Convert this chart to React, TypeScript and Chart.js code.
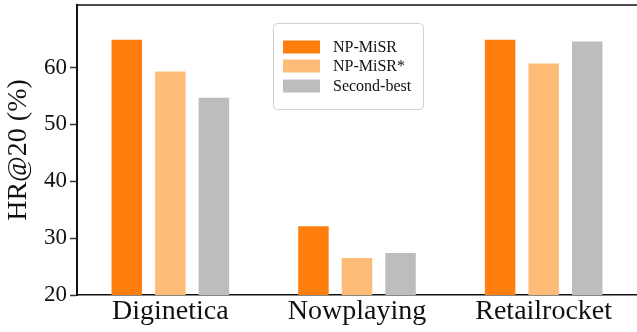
import React, { useEffect, useRef } from "react";
import { Chart, registerables } from "chart.js";

Chart.register(...registerables);

const categories = ["Diginetica", "Nowplaying", "Retailrocket"];
const seriesNames = ["NP-MiSR", "NP-MiSR*", "Second-best"];
const npMiSR = [64.9, 32.1, 64.9];
const npMiSRStar = [59.3, 26.5, 60.7];
const secondBest = [54.7, 27.4, 64.6];
const seriesColors = ["#ff7f0e", "#ffbb78", "#bdbdbd"];
const yTicks = [20, 30, 40, 50, 60];
const yMin = 20;
const yMax = 71;
const yTitle = "HR@20 (%)";

const FONT = "'Liberation Serif', 'Times New Roman', serif";

const topSpine = {
  id: "topSpine",
  afterDraw(chart: any) {
    const { ctx, chartArea } = chart;
    ctx.save();
    ctx.strokeStyle = "#111";
    ctx.lineWidth = 1.5;
    ctx.beginPath();
    ctx.moveTo(chartArea.left, chartArea.top);
    ctx.lineTo(chartArea.right, chartArea.top);
    ctx.stroke();
    ctx.restore();
  },
};

const boxLegend = {
  id: "boxLegend",
  afterDraw(chart: any) {
    const ctx = chart.ctx;
    const x0 = 273.5;
    const y0 = 23.5;
    const w = 150;
    const h = 86;
    ctx.save();
    ctx.beginPath();
    ctx.roundRect(x0, y0, w, h, 4);
    ctx.fillStyle = "rgba(255,255,255,0.9)";
    ctx.fill();
    ctx.strokeStyle = "#d0d0d0";
    ctx.lineWidth = 1;
    ctx.stroke();
    const rowY = [47, 66, 86];
    chart.data.datasets.forEach((ds: any, i: number) => {
      ctx.fillStyle = ds.backgroundColor;
      ctx.fillRect(283, rowY[i] - 6.5, 37, 13);
      ctx.fillStyle = "#111";
      ctx.font = `16px ${FONT}`;
      ctx.textBaseline = "middle";
      ctx.textAlign = "left";
      ctx.fillText(ds.label, 333, rowY[i] + 1);
    });
    ctx.restore();
  },
};

export default function App() {
  const ref = useRef<HTMLCanvasElement>(null);
  useEffect(() => {
    const values = [npMiSR, npMiSRStar, secondBest];
    const chart = new Chart(ref.current!, {
      type: "bar",
      data: {
        labels: categories,
        datasets: seriesNames.map((name, i) => ({
          label: name,
          data: values[i],
          backgroundColor: seriesColors[i],
          borderWidth: 0,
          categoryPercentage: 0.7,
          barPercentage: 0.7,
        })),
      },
      options: {
        animation: false,
        responsive: false,
        layout: { padding: { top: 5, left: 0, right: 0, bottom: 0 } },
        plugins: { legend: { display: false }, tooltip: { enabled: false } },
        scales: {
          x: {
            grid: { display: true, drawOnChartArea: false, drawTicks: false },
            border: { display: true, color: "#111", width: 1.5 },
            ticks: { font: { family: FONT, size: 28 }, color: "#111", padding: 0 },
            afterFit: (s: any) => {
              s.height = 37;
              s.paddingLeft = 0;
              s.paddingRight = 0;
            },
          },
          y: {
            min: yMin,
            max: yMax,
            grid: { drawOnChartArea: false, drawTicks: true, tickLength: 7, tickColor: "#333", tickWidth: 1.5 },
            border: { display: true, color: "#111", width: 2 },
            ticks: { font: { family: FONT, size: 23 }, color: "#111", padding: 3 },
            afterBuildTicks: (s: any) => {
              s.ticks = yTicks.map((v) => ({ value: v }));
            },
            afterFit: (s: any) => {
              s.width = 77;
              s.paddingTop = 0;
              s.paddingBottom = 0;
            },
            title: {
              display: true,
              text: yTitle,
              font: { family: FONT, size: 28 },
              color: "#111",
              padding: { top: 2, bottom: 0 },
            },
          },
        },
      },
      plugins: [topSpine, boxLegend],
    });
    return () => chart.destroy();
  }, []);
  return (
    <div style={{ position: "absolute", left: 0, top: 0, width: 637, height: 332, background: "#fff" }}>
      <canvas ref={ref} width={637} height={332} style={{ display: "block" }} />
    </div>
  );
}
